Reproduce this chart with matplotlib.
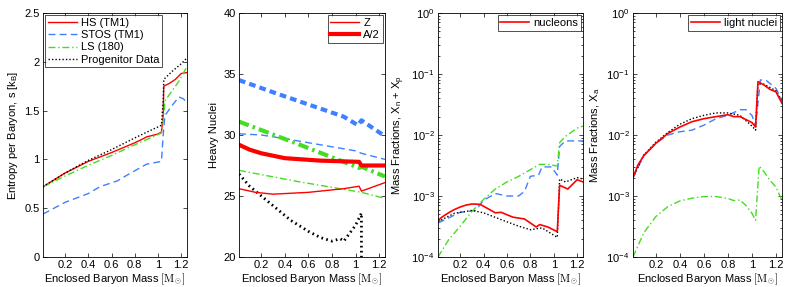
import matplotlib

matplotlib.use("Agg")
import matplotlib.pyplot as plt
import numpy as np

plt.rcParams["font.family"] = ["Liberation Sans", "DejaVu Sans"]
plt.rcParams["mathtext.fontset"] = "custom"
plt.rcParams["mathtext.rm"] = "Liberation Sans"
plt.rcParams["mathtext.it"] = "Liberation Sans:italic"
plt.rcParams["font.size"] = 8

RED = "#ff0000"
BLUE = "#4080ff"
GREEN = "#44dd22"
BLACK = "#000000"

# ---- panel 1: entropy per baryon ----
hs_s_m = [0.01, 0.2, 0.4, 0.6, 0.8, 0.87, 0.9, 1.0, 1.03, 1.045, 1.05, 1.1, 1.15, 1.2, 1.25]
hs_s = [0.72, 0.86, 0.98, 1.07, 1.17, 1.21, 1.23, 1.26, 1.28, 1.45, 1.75, 1.78, 1.82, 1.88, 1.89]
stos_s_m = [0.01, 0.2, 0.4, 0.5, 0.65, 0.75, 0.9, 1.03, 1.045, 1.06, 1.12, 1.18, 1.22, 1.25]
stos_s = [0.44, 0.56, 0.65, 0.72, 0.78, 0.85, 0.95, 0.98, 1.25, 1.45, 1.55, 1.64, 1.62, 1.58]
ls_s_m = [0.01, 0.2, 0.4, 0.6, 0.8, 1.03, 1.05, 1.06, 1.12, 1.18, 1.24, 1.25]
ls_s = [0.72, 0.83, 0.94, 1.04, 1.15, 1.27, 1.45, 1.60, 1.70, 1.80, 1.93, 1.93]
prog_s_m = [0.01, 0.2, 0.4, 0.6, 0.8, 1.03, 1.045, 1.05, 1.12, 1.2, 1.25]
prog_s = [0.72, 0.86, 0.99, 1.10, 1.22, 1.35, 1.6, 1.82, 1.90, 1.98, 2.04]

# ---- panel 2: heavy nuclei Z and A/2 ----
hs_z_m = [0.01, 0.15, 0.3, 0.6, 0.9, 1.03, 1.05, 1.25]
hs_z = [25.6, 25.3, 25.15, 25.3, 25.6, 25.8, 25.4, 26.1]
hs_a_m = [0.01, 0.1, 0.2, 0.3, 0.4, 0.7, 1.03, 1.05, 1.25]
hs_a = [29.2, 28.8, 28.5, 28.3, 28.1, 27.9, 27.8, 27.5, 27.5]
stos_z_m = [0.01, 0.2, 0.4, 0.7, 1.0, 1.05, 1.25]
stos_z = [30.1, 30.0, 29.7, 29.2, 28.7, 28.5, 28.0]
stos_a_m = [0.01, 0.3, 0.6, 0.9, 1.02, 1.05, 1.25]
stos_a = [34.5, 33.5, 32.5, 31.5, 30.8, 31.2, 29.9]
ls_z_m = [0.01, 0.5, 1.05, 1.25]
ls_z = [27.1, 26.2, 25.3, 24.8]
ls_a_m = [0.01, 0.5, 1.03, 1.05, 1.25]
ls_a = [31.1, 29.3, 27.3, 27.4, 26.6]
prog_a_m = [0.01, 0.1, 0.2, 0.3, 0.45, 0.6, 0.7, 0.8, 0.87, 0.9, 1.0, 1.05, 1.05]
prog_a = [26.8, 25.8, 25.0, 24.2, 23.0, 22.1, 21.6, 21.3, 21.5, 21.3, 22.6, 23.6, 20.0]

# ---- panel 3: nucleon mass fractions ----
hs_n_m = [0.01, 0.05, 0.1, 0.15, 0.2, 0.25, 0.3, 0.37, 0.45, 0.5, 0.55, 0.65, 0.75, 0.85, 0.88, 0.95, 1.03, 1.05, 1.12, 1.2, 1.25]
hs_n = [4.0e-4, 4.6e-4, 5.3e-4, 6.0e-4, 6.6e-4, 7.1e-4, 7.4e-4, 7.3e-4, 6.0e-4, 5.3e-4, 5.4e-4, 4.5e-4, 4.2e-4, 3.1e-4, 3.4e-4, 3.1e-4, 2.6e-4, 1.5e-3, 1.3e-3, 1.85e-3, 1.7e-3]
stos_n_m = [0.01, 0.2, 0.33, 0.4, 0.5, 0.6, 0.7, 0.75, 0.8, 0.87, 0.9, 0.98, 1.03, 1.05, 1.1, 1.25]
stos_n = [3.6e-4, 5.4e-4, 5.8e-4, 8.5e-4, 1.1e-3, 1.0e-3, 1.0e-3, 1.2e-3, 2.1e-3, 2.2e-3, 3.0e-3, 3.0e-3, 2.2e-3, 6.5e-3, 8.0e-3, 8.0e-3]
ls_n_m = [0.01, 0.1, 0.2, 0.3, 0.4, 0.5, 0.6, 0.7, 0.8, 0.88, 0.95, 1.03, 1.05, 1.1, 1.2, 1.25]
ls_n = [1.0e-4, 1.9e-4, 3.2e-4, 5.6e-4, 8.8e-4, 1.3e-3, 1.7e-3, 2.1e-3, 2.7e-3, 3.3e-3, 3.3e-3, 3.1e-3, 7.5e-3, 9.5e-3, 1.3e-2, 1.4e-2]
prog_n_m = [0.01, 0.15, 0.3, 0.4, 0.55, 0.7, 0.8, 0.9, 1.03, 1.05, 1.1, 1.2, 1.25]
prog_n = [3.8e-4, 5.2e-4, 5.8e-4, 5.3e-4, 4.1e-4, 3.2e-4, 2.8e-4, 3.0e-4, 2.1e-4, 1.9e-3, 1.7e-3, 2.0e-3, 1.9e-3]

# ---- panel 4: light nuclei mass fractions ----
hs_l_m = [0.01, 0.05, 0.1, 0.2, 0.3, 0.4, 0.5, 0.6, 0.7, 0.8, 0.85, 0.9, 1.0, 1.03, 1.05, 1.1, 1.15, 1.2, 1.25]
hs_l = [2.0e-3, 3.2e-3, 4.6e-3, 7.3e-3, 1.06e-2, 1.35e-2, 1.65e-2, 1.85e-2, 2.0e-2, 2.15e-2, 2.0e-2, 2.0e-2, 1.6e-2, 1.35e-2, 7.5e-2, 6.6e-2, 5.6e-2, 5.1e-2, 3.3e-2]
stos_l_m = [0.01, 0.1, 0.2, 0.3, 0.4, 0.5, 0.6, 0.7, 0.8, 0.9, 0.95, 1.0, 1.03, 1.07, 1.12, 1.2, 1.25]
stos_l = [2.0e-3, 4.6e-3, 7.3e-3, 1.0e-2, 1.13e-2, 1.2e-2, 1.45e-2, 1.85e-2, 2.1e-2, 2.6e-2, 2.6e-2, 2.1e-2, 1.4e-2, 8.0e-2, 7.8e-2, 5.8e-2, 3.7e-2]
ls_l_m = [0.01, 0.1, 0.2, 0.3, 0.4, 0.5, 0.6, 0.7, 0.8, 0.85, 0.9, 0.95, 1.0, 1.03, 1.06, 1.1, 1.15, 1.2, 1.25]
ls_l = [1.0e-4, 2.5e-4, 4.6e-4, 6.7e-4, 8.3e-4, 9.2e-4, 9.8e-4, 9.8e-4, 9.1e-4, 8.4e-4, 8.6e-4, 7.0e-4, 5.2e-4, 4.0e-4, 3.1e-3, 2.5e-3, 1.8e-3, 1.4e-3, 8.5e-4]
prog_l_m = [0.01, 0.1, 0.2, 0.3, 0.4, 0.5, 0.6, 0.7, 0.8, 0.9, 1.0, 1.03, 1.05, 1.1, 1.2, 1.25]
prog_l = [2.0e-3, 4.7e-3, 7.6e-3, 1.1e-2, 1.5e-2, 1.85e-2, 2.1e-2, 2.3e-2, 2.3e-2, 2.1e-2, 1.4e-2, 1.2e-2, 7.0e-2, 6.8e-2, 5.3e-2, 3.5e-2]

xticks = [0.2, 0.4, 0.6, 0.8, 1.0, 1.2]
xtick_labels = ["0.2", "0.4", "0.6", "0.8", "1", "1.2"]
xlabel = r"Enclosed Baryon Mass $[\mathrm{M}_{\odot}]$"

W, H = 789, 287
fig = plt.figure(figsize=(W / 100, H / 100), dpi=100)

boxes = [(43, 187), (239, 385), (438, 583), (633, 782)]
axes = []
for x0, x1 in boxes:
    ax = fig.add_axes([x0 / W, 30 / H, (x1 - x0) / W, 244 / H])
    axes.append(ax)


def style(ax):
    ax.set_xlim(0.01, 1.25)
    ax.set_xticks(xticks)
    ax.set_xticklabels(xtick_labels)
    ax.tick_params(which="both", direction="in", top=True, right=True, labelsize=8, pad=2.5)
    ax.tick_params(which="major", length=3, width=0.5)
    ax.tick_params(which="minor", length=1.5, width=0.5)
    for sp in ax.spines.values():
        sp.set_linewidth(0.6)
    ax.set_xlabel(xlabel, fontsize=8, labelpad=1, math_fontfamily="cm")


def legend(ax, loc):
    leg = ax.legend(loc=loc, fontsize=8, frameon=True, fancybox=False,
                    handlelength=2.6, borderpad=0.25, labelspacing=0.2,
                    handletextpad=0.35, borderaxespad=0.2)
    leg.get_frame().set_edgecolor("black")
    leg.get_frame().set_linewidth(0.6)


# panel 1
ax = axes[0]
ax.plot(hs_s_m, hs_s, color=RED, lw=1.0, label="HS (TM1)")
ax.plot(stos_s_m, stos_s, color=BLUE, lw=1.0, ls=(0, (5, 3)), label="STOS (TM1)")
ax.plot(ls_s_m, ls_s, color=GREEN, lw=1.0, ls=(0, (5, 2, 1, 2)), label="LS (180)")
ax.plot(prog_s_m, prog_s, color=BLACK, lw=1.0, ls=(0, (1, 1.5)), label="Progenitor Data")
ax.set_ylim(0, 2.5)
ax.set_yticks([0, 0.5, 1, 1.5, 2, 2.5])
ax.set_yticklabels(["0", "0.5", "1", "1.5", "2", "2.5"])
ax.set_ylabel(r"Entropy per Baryon, s [k$_{\rm B}$]", fontsize=8, labelpad=3)
style(ax)
legend(ax, "upper left")

# panel 2
ax = axes[1]
ax.plot(stos_a_m, stos_a, color=BLUE, lw=3.0, ls=(0, (1.6, 1.0)))
ax.plot(stos_z_m, stos_z, color=BLUE, lw=1.0, ls=(0, (5, 3)))
ax.plot(ls_a_m, ls_a, color=GREEN, lw=3.0, ls=(0, (2.5, 1.0, 0.6, 1.0)))
ax.plot(ls_z_m, ls_z, color=GREEN, lw=1.0, ls=(0, (5, 2, 1, 2)))
ax.plot(prog_a_m, prog_a, color=BLACK, lw=2.0, ls=(0, (0.6, 1.2)))
ax.plot(hs_z_m, hs_z, color=RED, lw=1.0, label="Z")
ax.plot(hs_a_m, hs_a, color=RED, lw=3.0, label="A/2")
ax.set_ylim(20, 40)
ax.set_yticks([20, 25, 30, 35, 40])
ax.set_ylabel("Heavy Nuclei", fontsize=8, labelpad=3)
style(ax)
legend(ax, "upper right")

# panels 3 and 4
for ax, hs, stos, ls, prog, lab, ylab in [
    (axes[2], (hs_n_m, hs_n), (stos_n_m, stos_n), (ls_n_m, ls_n), (prog_n_m, prog_n),
     "nucleons", r"Mass Fractions, X$_{\rm n}$ + X$_{\rm p}$"),
    (axes[3], (hs_l_m, hs_l), (stos_l_m, stos_l), (ls_l_m, ls_l), (prog_l_m, prog_l),
     "light nuclei", r"Mass Fractions, X$_{\rm a}$"),
]:
    ax.plot(*stos, color=BLUE, lw=1.0, ls=(0, (5, 3)))
    ax.plot(*ls, color=GREEN, lw=1.0, ls=(0, (5, 2, 1, 2)))
    ax.plot(*prog, color=BLACK, lw=1.0, ls=(0, (1, 1.5)))
    ax.plot(*hs, color=RED, lw=1.2, label=lab)
    ax.set_yscale("log")
    ax.set_ylim(1e-4, 1)
    ax.set_ylabel(ylab, fontsize=8, labelpad=3)
    style(ax)
    legend(ax, "upper right")

fig.savefig("out.png", dpi=100)
